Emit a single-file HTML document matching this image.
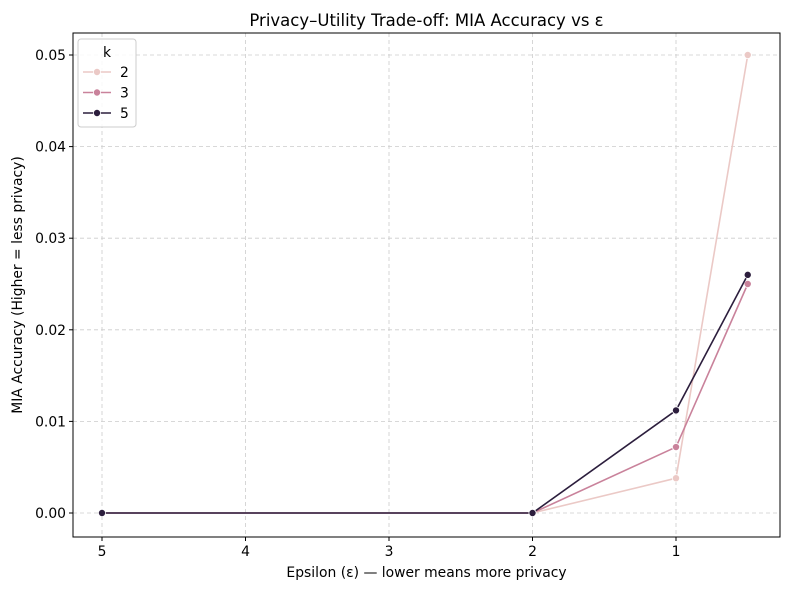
<!DOCTYPE html>
<html><head><meta charset="utf-8"><style>
body{margin:0;background:#fff;font-family:"Liberation Sans","DejaVu Sans",sans-serif;}
</style></head><body>
<svg id="chart" width="790" height="590" xmlns="http://www.w3.org/2000/svg" font-family="DejaVu Sans, Liberation Sans, sans-serif"></svg>
<script>
const epsilons=[5,2,1,0.5];
const kLabels=["2","3","5"];
const seriesK2=[0,0,0.0038,0.05];
const seriesK3=[0,0,0.0072,0.025];
const seriesK5=[0,0,0.0112,0.026];
const xTicks=[5,4,3,2,1];
const yTicks=[0,0.01,0.02,0.03,0.04,0.05];
const yTickLabels=["0.00","0.01","0.02","0.03","0.04","0.05"];
const colors=["#ebc9c6","#c9829b","#2c1e3d"];
const L=73,R=780,T=33,B=537;
const FS=13.9;
const xs=v=>102+(5-v)*143.5;
const ys=v=>513-v*9160;
const svg=document.getElementById('chart');
const NS="http://www.w3.org/2000/svg";
function mk(tag,attrs,parent){const e=document.createElementNS(NS,tag);for(const k in attrs)e.setAttribute(k,attrs[k]);(parent||svg).appendChild(e);return e;}
function txt(s,attrs){const e=mk('text',attrs);e.textContent=s;return e;}
xTicks.forEach(v=>{
 const g=mk('line',{x1:xs(v),x2:xs(v),y1:T,y2:B,stroke:'#ccc','stroke-dasharray':'4,3','stroke-width':0.8});
 
 
 const t=mk('line',{x1:xs(v),x2:xs(v),y1:B,y2:B+4,stroke:'#000'});
 
 
 const l=txt(String(v),{x:xs(v),y:B+19,'text-anchor':'middle','font-size':FS});
 
 
});
yTicks.forEach((v,i)=>{
 const g=mk('line',{x1:L,x2:R,y1:ys(v),y2:ys(v),stroke:'#ccc','stroke-dasharray':'4,3','stroke-width':0.8});
 
 
 const t=mk('line',{x1:L-4,x2:L,y1:ys(v),y2:ys(v),stroke:'#000'});
 
 
 const l=txt(yTickLabels[i],{x:L-7,y:ys(v)+5,'text-anchor':'end','font-size':FS});
 
 
});
const frame=mk('rect',{x:L,y:T,width:R-L,height:B-T,fill:'none',stroke:'#000','stroke-width':1});


[seriesK2,seriesK3,seriesK5].forEach((s,si)=>{
 const p=mk('polyline',{points:s.map((v,i)=>xs(epsilons[i])+','+ys(v)).join(' '),fill:'none',stroke:colors[si],'stroke-width':1.6});
 
 
 s.forEach((v,i)=>{
  const c=mk('circle',{cx:xs(epsilons[i]),cy:ys(v),r:3.6,fill:colors[si],stroke:'#fff','stroke-width':0.8});
  
  
 });
});
const tt=txt('Privacy–Utility Trade-off: MIA Accuracy vs ε',{x:(L+R)/2,y:26,'text-anchor':'middle','font-size':16.5});


const xl=txt('Epsilon (ε) — lower means more privacy',{x:(L+R)/2,y:577,'text-anchor':'middle','font-size':FS});


const yl=txt('MIA Accuracy (Higher = less privacy)',{x:0,y:0,'text-anchor':'middle','font-size':FS,transform:'translate(22,285) rotate(-90)'});


const lg=mk('g',{});


mk('rect',{x:78,y:39,width:58,height:88,rx:3,fill:'#fff','fill-opacity':0.85,stroke:'#ccc'},lg);
const lt=mk('text',{x:107,y:57,'text-anchor':'middle','font-size':FS},lg);lt.textContent='k';
kLabels.forEach((k,i)=>{
 const y=72+i*20.5;
 const e=mk('g',{},lg);
 
 
 mk('line',{x1:83,x2:111,y1:y,y2:y,stroke:colors[i],'stroke-width':1.6},e);
 mk('circle',{cx:97,cy:y,r:3.6,fill:colors[i],stroke:'#fff','stroke-width':0.8},e);
 const t=mk('text',{x:120,y:y+5,'font-size':FS},e);t.textContent=k;
});
</script>
</body></html>
